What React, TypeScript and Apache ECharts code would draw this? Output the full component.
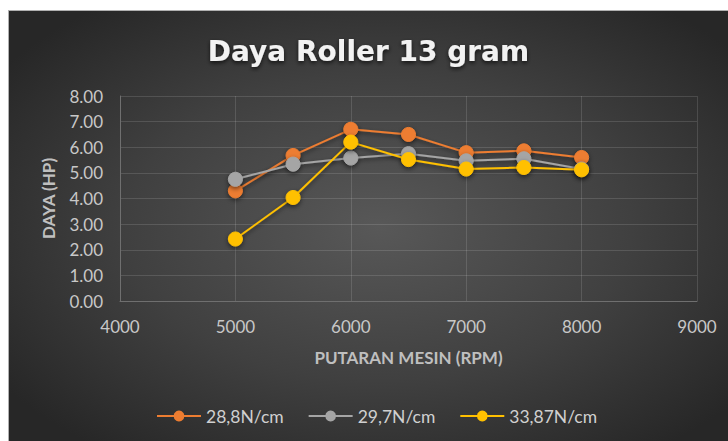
import React, { useEffect, useRef } from "react";
import * as echarts from "echarts";

const rpm = [5000, 5500, 6000, 6500, 7000, 7500, 8000];
const seriesNames = ["28,8N/cm", "29,7N/cm", "33,87N/cm"];
const orangeValues = [4.3, 5.68, 6.7, 6.5, 5.79, 5.86, 5.6];
const grayValues = [4.75, 5.34, 5.58, 5.75, 5.47, 5.55, 5.15];
const yellowValues = [2.42, 4.04, 6.2, 5.52, 5.15, 5.21, 5.12];
const colors = ["#ED7D31", "#A5A5A5", "#FFC000"];

const FONT = "Lato, 'Open Sans', sans-serif";

export default function App() {
  const ref = useRef<HTMLDivElement>(null);
  useEffect(() => {
    if (!ref.current) return;
    const chart = echarts.init(ref.current, undefined, { renderer: "svg" });
    const all = [orangeValues, grayValues, yellowValues];
    chart.setOption({
      animation: false,
      textStyle: { fontFamily: FONT },
      title: {
        text: "Daya Roller 13 gram",
        left: "center",
        top: 21,
        textStyle: {
          color: "#f2f2f2",
          fontSize: 28,
          fontWeight: "bold",
          fontFamily: "'DejaVu Sans', sans-serif",
          textShadowColor: "rgba(0,0,0,0.7)",
          textShadowBlur: 4,
          textShadowOffsetY: 2,
        },
      },
      legend: {
        top: 391,
        left: 142,
        itemWidth: 44,
        itemHeight: 11,
        itemGap: 24,
        textStyle: { color: "#d0d0d0", fontSize: 17.5, fontFamily: FONT },
        data: seriesNames,
      },
      grid: { left: 111, right: 31, top: 85, bottom: 140 },
      xAxis: {
        type: "value",
        min: 4000,
        max: 9000,
        interval: 1000,
        name: "PUTARAN MESIN (RPM)",
        nameLocation: "middle",
        nameGap: 48,
        nameTextStyle: { color: "#bfbfbf", fontSize: 17, fontWeight: "bold", fontFamily: FONT },
        axisLine: { show: true, lineStyle: { color: "#6f6f6f", width: 1 } },
        axisTick: { show: false },
        axisLabel: {
          color: "#c8c8c8",
          fontSize: 17,
          margin: 17,
          fontFamily: FONT,
          formatter: (v: number) => String(v),
        },
        splitLine: { show: true, lineStyle: { color: "rgba(255,255,255,0.13)", width: 1 } },
      },
      yAxis: {
        type: "value",
        min: 0,
        max: 8,
        interval: 1,
        name: "DAYA (HP)",
        nameLocation: "middle",
        nameGap: 63,
        nameRotate: 90,
        nameTextStyle: { color: "#bfbfbf", fontSize: 17, fontWeight: "bold", fontFamily: FONT },
        axisLine: { show: true, lineStyle: { color: "#6f6f6f", width: 1 } },
        axisTick: { show: false },
        axisLabel: {
          color: "#c8c8c8",
          fontSize: 17,
          margin: 17,
          fontFamily: FONT,
          formatter: (v: number) => v.toFixed(2),
        },
        splitLine: { show: true, lineStyle: { color: "rgba(255,255,255,0.13)", width: 1 } },
      },
      series: seriesNames.map((name, i) => ({
        name,
        type: "line",
        data: rpm.map((x, j) => [x, all[i][j]]),
        symbol: "circle",
        symbolSize: 14,
        color: colors[i],
        lineStyle: {
          color: colors[i],
          width: 2,
          shadowColor: "rgba(0,0,0,0.5)",
          shadowBlur: 4,
          shadowOffsetY: 2,
        },
        itemStyle: {
          color: colors[i],
          borderColor: colors[i],
          borderWidth: 1,
          shadowColor: "rgba(0,0,0,0.55)",
          shadowBlur: 5,
          shadowOffsetY: 2,
        },
        z: 2 + i,
      })),
    });
    return () => chart.dispose();
  }, []);

  return (
    <div style={{ position: "fixed", left: 0, top: 0, width: 728, height: 441, overflow: "hidden", background: "#ffffff" }}>
      <div
        style={{
          position: "absolute",
          left: 8,
          top: 10,
          width: 740,
          height: 450,
          borderTop: "1px solid #b0b0b0",
          borderLeft: "1px solid #b0b0b0",
          background: "radial-gradient(ellipse 62% 62% at 50% 48%, #585858 0%, #404040 55%, #272727 100%)",
        }}
      >
        <div ref={ref} style={{ position: "absolute", left: 0, top: 0, width: 719, height: 430 }} />
      </div>
    </div>
  );
}
